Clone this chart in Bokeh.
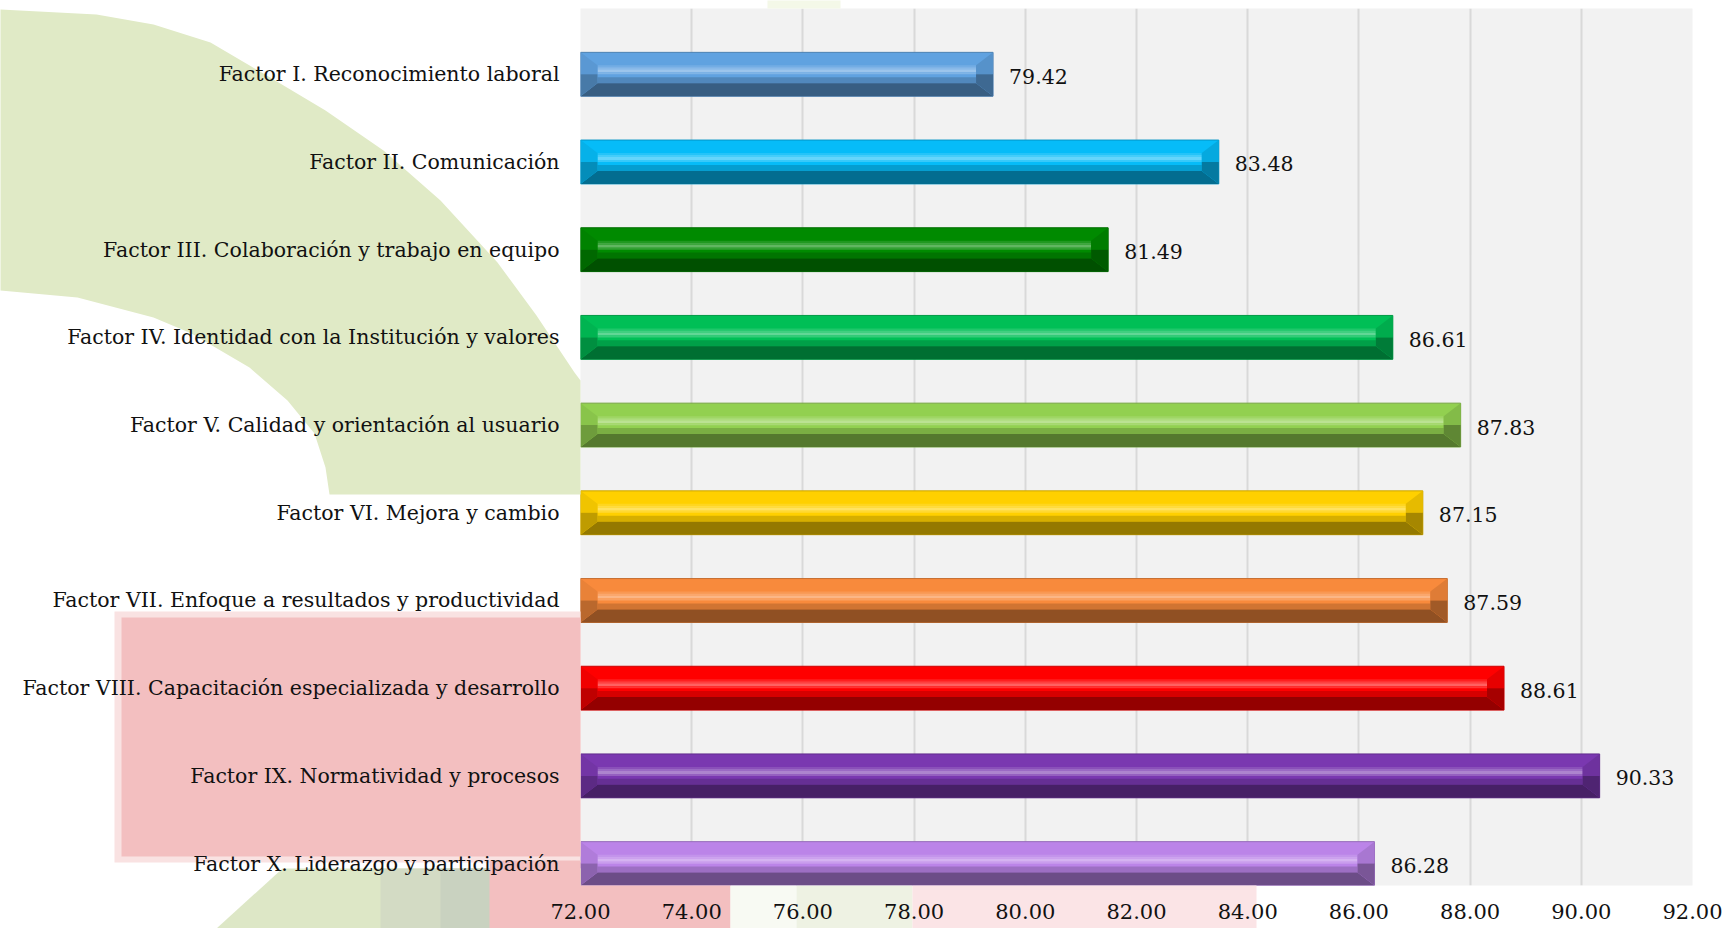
from bokeh.plotting import figure
from bokeh.models import (Range1d, LinearAxis, FixedTicker, NumeralTickFormatter,
                          ColumnDataSource, Grid)
from bokeh.core.properties import value
from bokeh.embed import file_html
from bokeh.resources import INLINE

# ---------------- data ----------------
categories = [
    "Factor I. Reconocimiento laboral",
    "Factor II. Comunicación",
    "Factor III. Colaboración y trabajo en equipo",
    "Factor IV. Identidad con la Institución y valores",
    "Factor V. Calidad y orientación al usuario",
    "Factor VI. Mejora y cambio",
    "Factor VII. Enfoque a resultados y productividad",
    "Factor VIII. Capacitación especializada y desarrollo",
    "Factor IX. Normatividad y procesos",
    "Factor X. Liderazgo y participación",
]
values = [79.42, 83.48, 81.49, 86.61, 87.83, 87.15, 87.59, 88.61, 90.33, 86.28]
bar_colors = ["#60a2e0", "#06bcf8", "#008a00", "#00bf56", "#92d050",
              "#ffd000", "#f88a3c", "#ff0000", "#7a38b0", "#bb84e8"]
x_ticks = [72, 74, 76, 78, 80, 82, 84, 86, 88, 90, 92]

# ---------------- layout constants ----------------
W, H = 1731, 928
LEFT, RIGHT, TOP, BOTTOM = 580, 39, 8, 43
X0, X1 = 72, 92
FW = W - LEFT - RIGHT
FH = H - TOP - BOTTOM
PX_X = FW / (X1 - X0)
PX_Y = FH / 10.0
FONT = "DejaVu Serif"
FS = "20.5px"

def px2x(px):
    return X0 + (px - LEFT) / PX_X

def py2y(py):
    return (H - BOTTOM - py) / PX_Y

def mix(c, t, a):
    c = c.lstrip("#")
    r, g, b = int(c[0:2], 16), int(c[2:4], 16), int(c[4:6], 16)
    tv = 255 if t == "w" else 0
    r = round(r + (tv - r) * a); g = round(g + (tv - g) * a); b = round(b + (tv - b) * a)
    return "#%02x%02x%02x" % (r, g, b)

n = len(categories)
pos = [n - 1 + 0.25 - i for i in range(n)]

p = figure(width=W, height=H, output_backend="svg", toolbar_location=None,
           x_range=Range1d(X0, X1), y_range=Range1d(0, 10),
           x_axis_type=None, y_axis_type=None,
           min_border_left=LEFT, min_border_right=RIGHT,
           min_border_top=TOP, min_border_bottom=BOTTOM)
p.background_fill_color = "#f2f2f2"
p.border_fill_color = "white"
p.outline_line_color = None

# ---------------- background decorations (slide artwork around the plot area) ----------------
# every shape touches the plot-area edge so that it is not culled
deco_xs, deco_ys, deco_c = [], [], []
def deco(pts, color):
    deco_xs.append([px2x(x) for x, y in pts])
    deco_ys.append([py2y(y) for x, y in pts])
    deco_c.append(color)

green = "#e0eac6"
outer = [(0, 9), (96, 14), (153, 24), (210, 42), (268, 76), (325, 110), (383, 150),
         (440, 200), (497, 262), (536, 315), (574, 372), (580, 380)]
inner = [(0, 290), (77, 297), (153, 317), (191, 333), (249, 367), (287, 400),
         (314, 433), (325, 467), (329, 494)]
deco(outer + [(580, 494)] + inner[::-1], green)
deco([(767, 0), (840, 0), (840, 8), (767, 8)], "#f4f8e8")
deco([(282, 868), (580, 868), (580, 928), (216, 928)], "#dde7c6")
deco([(380, 868), (580, 868), (580, 928), (380, 928)], "#d3dbc4")
deco([(440, 868), (580, 868), (580, 928), (440, 928)], "#c9d2c0")
deco([(114, 611), (580, 611), (580, 862), (114, 862)], "#f9e2e2")
deco([(121, 617), (580, 617), (580, 856), (121, 856)], "#f3bfc0")
deco([(489, 860), (580, 860), (580, 885), (730, 885), (730, 928), (489, 928)], "#f3bfc0")
deco([(730, 885), (796, 885), (796, 928), (730, 928)], "#f8faf3")
deco([(796, 885), (912, 885), (912, 928), (796, 928)], "#eef2e3")
deco([(912, 885), (1256, 885), (1256, 928), (912, 928)], "#fbe4e6")
p.patches(deco_xs, deco_ys, fill_color=deco_c, line_color=None, level="guide")

# ---------------- axes ----------------
xax = LinearAxis(ticker=FixedTicker(ticks=x_ticks), formatter=NumeralTickFormatter(format="0.00"))
xax.axis_line_color = None
xax.major_tick_line_color = None
xax.minor_tick_line_color = None
xax.major_tick_out = 0
xax.major_label_standoff = 18
xax.major_label_text_font = FONT
xax.major_label_text_font_size = "21px"
xax.major_label_text_color = "#111111"
xax.level = "overlay"
p.add_layout(xax, "below")

yax = LinearAxis(ticker=FixedTicker(ticks=pos),
                 major_label_overrides={pp: c for pp, c in zip(pos, categories)})
yax.axis_line_color = None
yax.major_tick_line_color = None
yax.minor_tick_line_color = None
yax.major_tick_out = 0
yax.major_label_standoff = 21
yax.major_label_text_font = FONT
yax.major_label_text_font_size = FS
yax.major_label_text_color = "#111111"
yax.level = "overlay"
p.add_layout(yax, "left")

g = Grid(dimension=0, ticker=FixedTicker(ticks=x_ticks))
g.grid_line_color = "#d9d9d9"
g.grid_line_width = 2
p.add_layout(g)

# ---------------- bars with bevel ----------------
bxd = 17 / PX_X
byd = 13 / PX_Y
h2 = 0.5 / 2
u = 1 / PX_Y

src = ColumnDataSource(dict(y=pos, right=values, color=bar_colors,
                            line=[mix(c, "k", 0.2) for c in bar_colors]))
p.hbar(y="y", left=X0, right="right", height=0.5, source=src,
       fill_color="color", line_color="line", line_width=1)

faces_xs, faces_ys, faces_c = [], [], []
bands_y, bands_h, bands_l, bands_r, bands_c = [], [], [], [], []
for v, c, col in zip(values, pos, bar_colors):
    t, b = c + h2, c - h2
    L = X0
    for off, hh, colr in [(0, 2, mix(col, "w", 0.12)), (2, 2, mix(col, "w", 0.25)),
                          (4, 3, mix(col, "w", 0.38)), (7, 2, mix(col, "w", 0.2)),
                          (16, 3, mix(col, "k", 0.06))]:
        bands_y.append(t - byd - (off + hh / 2) * u); bands_h.append(hh * u)
        bands_l.append(L + bxd); bands_r.append(v - bxd); bands_c.append(colr)
    bands_y.append(b + byd + 3 * u); bands_h.append(6 * u)
    bands_l.append(L + bxd); bands_r.append(v - bxd); bands_c.append(mix(col, "k", 0.16))
    faces_xs.append([L, v, v - bxd, L + bxd]); faces_ys.append([b, b, b + byd, b + byd])
    faces_c.append(mix(col, "k", 0.42))
    faces_xs.append([v, v, v - bxd, v - bxd]); faces_ys.append([t, c, c, t - byd])
    faces_c.append(mix(col, "k", 0.1))
    faces_xs.append([v, v, v - bxd, v - bxd]); faces_ys.append([c, b, b + byd, c])
    faces_c.append(mix(col, "k", 0.35))
    faces_xs.append([L, L + bxd, L + bxd, L]); faces_ys.append([t, t - byd, c, c])
    faces_c.append(mix(col, "k", 0.06))
    faces_xs.append([L, L + bxd, L + bxd, L]); faces_ys.append([c, c, b + byd, b])
    faces_c.append(mix(col, "k", 0.25))

p.hbar(y=bands_y, left=bands_l, right=bands_r, height=bands_h,
       fill_color=bands_c, line_color=None)
p.patches(faces_xs, faces_ys, fill_color=faces_c, line_color=None)

lab = ColumnDataSource(dict(x=values, y=pos, text=["%.2f" % v for v in values]))
p.text(x="x", y="y", text="text", source=lab, x_offset=16, y_offset=2,
       text_baseline="middle", text_align="left",
       text_font=value(FONT), text_font_size=FS, text_color="#111111")

open("out.html", "w").write(file_html(p, INLINE))
